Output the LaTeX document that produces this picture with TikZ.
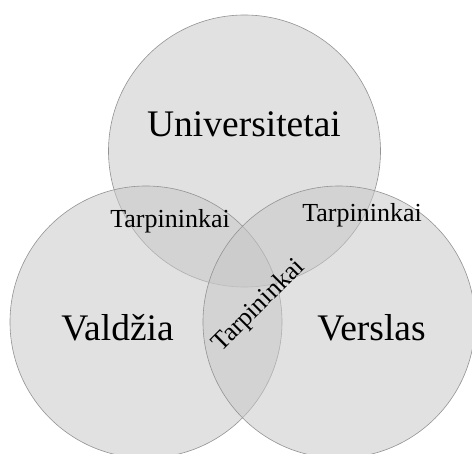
\documentclass[tikz,border=0pt]{standalone}
\usepackage{fontspec}
\setmainfont{Liberation Serif}
\usepackage{xcolor}

\begin{document}
\begin{tikzpicture}[x=1pt, y=-1pt,
        set/.style={draw=gray!85, line width=0.6pt, circle, minimum size=272pt, inner sep=0pt, fill=black!22, fill opacity=0.54},
        big/.style={font=\fontsize{37.5}{37.5}\selectfont, anchor=base},
        small/.style={font=\fontsize{26}{26}\selectfont}]
        \useasboundingbox (0,0) rectangle (472,454);
        \node[set] (univ) at (244.5,151) {};
        \node[set] (vald) at (146,322) {};
        \node[set] (vers) at (339,322) {};

        \node[big] (univtext) at (244,137) {Universitetai};
        \node[big] (valdtext) at (117.5,341) {Valdžia};
        \node[big] (verstext) at (371.5,341) {Verslas};

        \node[small, anchor=base] (tarpa) at (170,228) {Tarpininkai};
        \node[small, anchor=base] (tarpb) at (362,222) {Tarpininkai};
        \node[small, rotate=45] (tarpc) at (259,306) {Tarpininkai};
    \end{tikzpicture}
\end{document}
